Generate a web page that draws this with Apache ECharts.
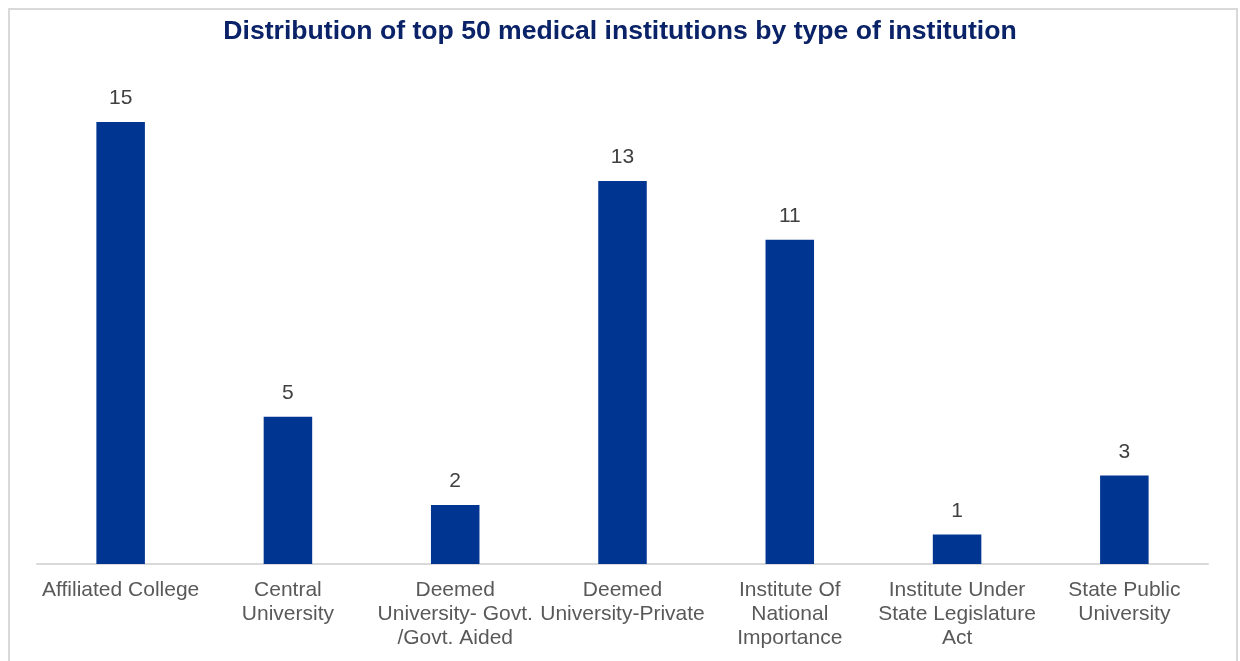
<!DOCTYPE html>
<html>
<head>
<meta charset="utf-8">
<script src="https://cdn.jsdelivr.net/npm/echarts@6/dist/echarts.min.js"></script>
<style>
html, body { margin: 0; padding: 0; background: #fff; }
#frame { position: absolute; left: 8px; top: 8px; width: 1230px; height: 700px; border: 2px solid #d9d9d9; box-sizing: border-box; }
#main { position: absolute; left: 0; top: 0; width: 1240px; height: 661px; }
</style>
</head>
<body>
<div id="frame"></div>
<div id="main"></div>
<script>
// categories and counts
var categories = [
  'Affiliated College',
  'Central\nUniversity',
  'Deemed\nUniversity- Govt.\n/Govt. Aided',
  'Deemed\nUniversity-Private',
  'Institute Of\nNational\nImportance',
  'Institute Under\nState Legislature\nAct',
  'State Public\nUniversity'
];
var counts = [15, 5, 2, 13, 11, 1, 3];

var myChart = echarts.init(document.getElementById('main'));
var option = {
  title: {
    text: 'Distribution of top 50 medical institutions by type of institution',
    left: 'center',
    top: 13,
    textStyle: { fontFamily: 'Liberation Sans, Arial', fontSize: 26.6, fontWeight: 'bold', color: '#0a2267' }
  },
  grid: { left: 37, right: 32, top: 122, bottom: 97 },
  xAxis: {
    type: 'category',
    data: categories,
    axisLine: { lineStyle: { color: '#d9d9d9', width: 2 } },
    axisTick: { show: false },
    axisLabel: {
      interval: 0,
      margin: 14,
      fontFamily: 'Liberation Sans, Arial',
      fontSize: 21,
      lineHeight: 24,
      color: '#595959'
    }
  },
  yAxis: {
    type: 'value',
    min: 0,
    max: 15,
    show: false,
    splitLine: { show: false }
  },
  series: [{
    type: 'bar',
    data: counts,
    barWidth: '29%',
    itemStyle: { color: '#003591' },
    label: {
      show: true,
      position: 'top',
      distance: 13,
      fontFamily: 'Liberation Sans, Arial',
      fontSize: 21,
      color: '#404040'
    }
  }],
  animation: false
};
myChart.setOption(option);
</script>
</body>
</html>
